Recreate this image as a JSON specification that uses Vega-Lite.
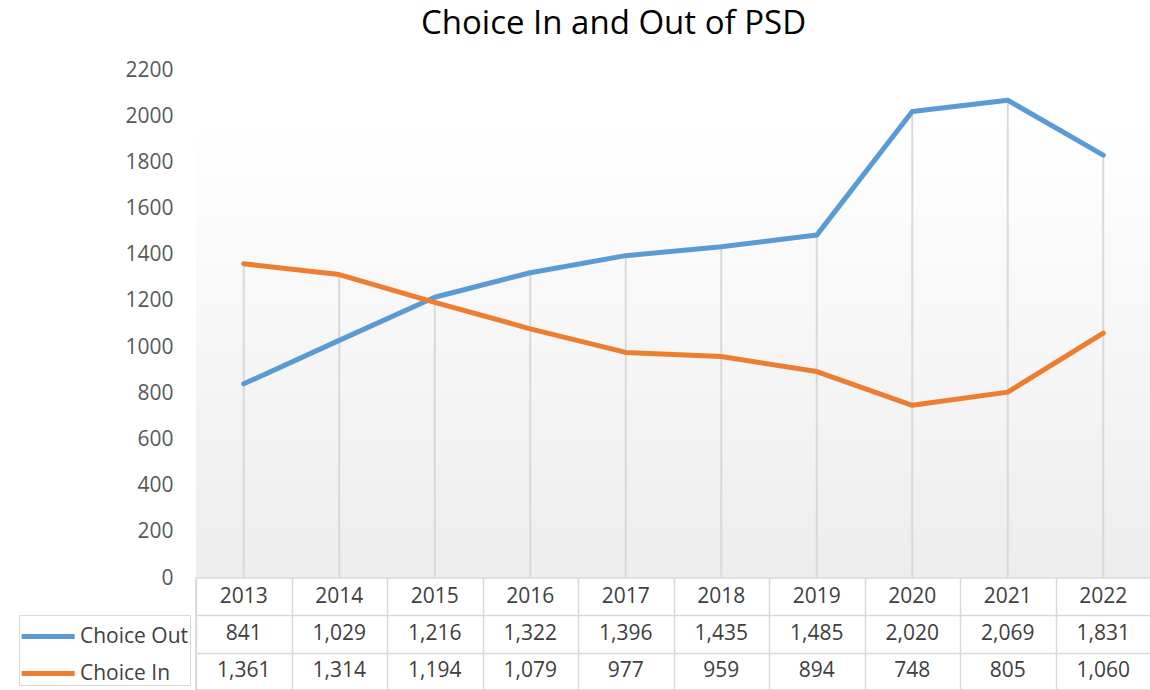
{
  "$schema": "https://vega.github.io/schema/vega-lite/v6.json",
  "padding": {"left": 18, "top": 8, "right": 0, "bottom": 0},
  "background": "white",
  "bounds": "flush",
  "config": {
    "font": "Open Sans",
    "view": {"stroke": null},
    "concat": {"spacing": 0}
  },
  "resolve": {"scale": {"x": "independent", "y": "independent", "color": "shared"}},
  "data": {"values": [
    {"year": "2013", "series": "Choice Out", "value": 841},
    {"year": "2014", "series": "Choice Out", "value": 1029},
    {"year": "2015", "series": "Choice Out", "value": 1216},
    {"year": "2016", "series": "Choice Out", "value": 1322},
    {"year": "2017", "series": "Choice Out", "value": 1396},
    {"year": "2018", "series": "Choice Out", "value": 1435},
    {"year": "2019", "series": "Choice Out", "value": 1485},
    {"year": "2020", "series": "Choice Out", "value": 2020},
    {"year": "2021", "series": "Choice Out", "value": 2069},
    {"year": "2022", "series": "Choice Out", "value": 1831},
    {"year": "2013", "series": "Choice In", "value": 1361},
    {"year": "2014", "series": "Choice In", "value": 1314},
    {"year": "2015", "series": "Choice In", "value": 1194},
    {"year": "2016", "series": "Choice In", "value": 1079},
    {"year": "2017", "series": "Choice In", "value": 977},
    {"year": "2018", "series": "Choice In", "value": 959},
    {"year": "2019", "series": "Choice In", "value": 894},
    {"year": "2020", "series": "Choice In", "value": 748},
    {"year": "2021", "series": "Choice In", "value": 805},
    {"year": "2022", "series": "Choice In", "value": 1060}
  ]},
  "vconcat": [
    {
      "width": 955,
      "height": 508,
      "title": {"text": "Choice In and Out of PSD", "fontSize": 33, "fontWeight": "normal", "color": "#000000", "anchor": "middle", "dx": -60, "offset": 18},
      "view": {"stroke": null, "fill": {"gradient": "linear", "x1": 0, "y1": 0, "x2": 0, "y2": 1, "stops": [{"offset": 0, "color": "#ffffff"}, {"offset": 0.1, "color": "#ffffff"}, {"offset": 1, "color": "#ededed"}]}},
      "encoding": {
        "x": {"field": "year", "type": "ordinal", "scale": {"paddingInner": 0, "paddingOuter": 0}, "axis": null}
      },
      "layer": [
        {
          "mark": {"type": "rule", "color": "#d9d9d9", "strokeWidth": 2},
          "encoding": {
            "y": {"aggregate": "max", "field": "value", "type": "quantitative", "scale": {"domain": [0, 2200]},
                  "axis": {"title": null, "domain": false, "ticks": false, "grid": false, "values": [0, 200, 400, 600, 800, 1000, 1200, 1400, 1600, 1800, 2000, 2200], "labelFontSize": 21, "labelColor": "#595959", "labelPadding": 23, "format": "d"}},
            "y2": {"datum": 0}
          }
        },
        {
          "mark": {"type": "line", "strokeWidth": 5, "strokeCap": "round", "strokeJoin": "round"},
          "encoding": {
            "y": {"field": "value", "type": "quantitative"},
            "color": {"field": "series", "type": "nominal", "sort": ["Choice Out", "Choice In"],
                      "scale": {"domain": ["Choice Out", "Choice In"], "range": ["#5b9bd5", "#ed7d31"]},
                      "legend": {"title": null, "orient": "none", "legendX": -177, "legendY": 545, "symbolType": "M-1.05,0H1.9", "symbolSize": 1296, "symbolStrokeWidth": 5, "labelFontSize": 21, "labelColor": "#404040", "labelOffset": 19, "rowPadding": 6, "padding": 1, "strokeColor": "#d9d9d9", "labelExpr": "datum.label + '    '"}}
          }
        }
      ]
    },
    {
      "width": 955,
      "height": 112,
      "view": {"stroke": "#d9d9d9", "strokeWidth": 1.5},
      "encoding": {
        "x": {"field": "year", "type": "ordinal", "scale": {"paddingInner": 0, "paddingOuter": 0},
              "axis": {"orient": "top", "title": null, "labels": false, "ticks": false, "domain": false, "grid": true, "gridColor": "#d9d9d9", "gridWidth": 1.5, "tickBand": "extent"}}
      },
      "layer": [
        {
          "mark": {"type": "text", "fontSize": 21, "color": "#404040"},
          "encoding": {
            "y": {"field": "series", "type": "nominal", "scale": {"domain": ["Year", "Choice Out", "Choice In"], "paddingInner": 0, "paddingOuter": 0},
                  "axis": {"title": null, "labels": false, "domain": false, "grid": true, "gridColor": "#d9d9d9", "gridWidth": 1.5, "tickBand": "extent", "ticks": false, "values": ["Choice Out", "Choice In"]}},
            "text": {"field": "value", "type": "quantitative", "format": ","}
          }
        },
        {
          "transform": [{"filter": "datum.series === 'Choice Out'"}],
          "mark": {"type": "text", "fontSize": 21, "color": "#404040"},
          "encoding": {
            "y": {"datum": "Year"},
            "text": {"field": "year", "type": "nominal"}
          }
        }
      ]
    }
  ]
}
